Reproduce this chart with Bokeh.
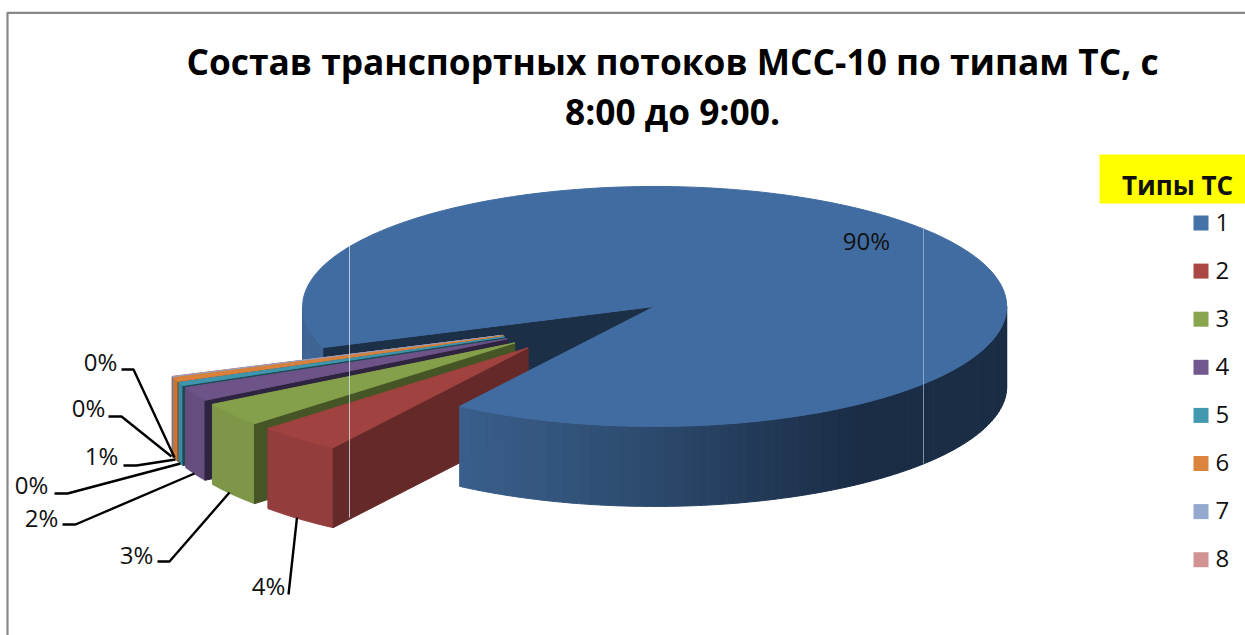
import math
from bokeh.plotting import figure
from bokeh.models import Range1d
from bokeh.core.properties import value
from bokeh.embed import file_html
from bokeh.resources import INLINE

# ---- data ----
TITLE_LINES = ["Состав транспортных потоков МСС-10 по типам ТС, с", "8:00 до 9:00."]
LEGEND_TITLE = "Типы ТС"
SERIES = ["1", "2", "3", "4", "5", "6", "7", "8"]
SHARES = [89.9, 3.9, 3.2, 1.9, 0.45, 0.55, 0.05, 0.05]

# ---- styles ----
LEGEND_COLORS = ["#4572A7", "#AA4643", "#89A54E", "#71588F", "#4198AF", "#DB843D", "#93A9CF", "#D19392"]
TOP_COLORS = ["#416CA1", "#A0423F", "#85A04A", "#6E5389", "#3F96AE", "#D9803A", "#8FA4C8", "#CB8E8D"]
WALL_COLORS = ["#3C6393", "#933D3C", "#7D9648", "#654D7E", "#3A8AA0", "#C87636", "#7F92B5", "#B88080"]
SIDE_COLORS = ["#1B2F47", "#662929", "#455526", "#2F2440", "#1E4A55", "#7A4A22", "#56637C", "#7A5454"]
# shading of the large slice's outer wall, by horizontal position
BLUE_WALL_STOPS = [(300, "#3E6595"), (458, "#3A5F8C"), (650, "#2C4A6D"), (800, "#1F3450"), (860, "#1A2D45"), (1010, "#1A2D45")]

# ---- layout (reference pixel frame) ----
W, H = 1245, 635
CX, CY = 585.0, 324.5      # pie centre before explosion
RX, RY = 352.0, 120.0      # ellipse radii
DEPTH = 80.0
EXPLODE = 0.25
START_DEG = 160.0          # where the first slice starts, clockwise on screen

LABEL_POS = [(866, 240), (268, 585), (136, 554), (41, 517), (31, 484), (101, 455), (88, 407), (100, 361)]
LEADERS = [None,
           [(288, 594), (296.5, 517)],
           [(157, 561), (169, 561), (229, 492)],
           [(62, 524), (75, 524), (194, 473)],
           [(54, 493), (67, 493), (180, 463)],
           [(123, 465), (136, 465), (175, 459)],
           [(108, 416), (121, 416), (171, 456)],
           [(121, 369), (133, 369), (174, 457)]]


def hex2rgb(c):
    return tuple(int(c[i:i + 2], 16) for i in (1, 3, 5))


def blue_wall(x):
    for (x1, c1), (x2, c2) in zip(BLUE_WALL_STOPS, BLUE_WALL_STOPS[1:]):
        if x1 <= x <= x2:
            t = (x - x1) / (x2 - x1)
            a, b = hex2rgb(c1), hex2rgb(c2)
            return "#%02x%02x%02x" % tuple(round(a[i] + (b[i] - a[i]) * t) for i in range(3))
    return BLUE_WALL_STOPS[-1][1]


def rim(ax, ay, deg):
    r = math.radians(deg)
    return ax + RX * math.cos(r), ay + RY * math.sin(r)


def arc(ax, ay, a1, a2, step=1.0):
    n = max(2, int(abs(a2 - a1) / step) + 1)
    return [rim(ax, ay, a1 + (a2 - a1) * i / (n - 1)) for i in range(n)]


total = sum(SHARES)
spans = []
a = START_DEG
for s in SHARES:
    b = a + s / total * 360.0
    spans.append((a, b))
    a = b

apexes = []
for a1, a2 in spans:
    m = math.radians((a1 + a2) / 2)
    apexes.append((CX + EXPLODE * RX * math.cos(m), CY + EXPLODE * RY * math.sin(m)))

polys = {"xs": [], "ys": [], "c": []}


def add(points, color):
    polys["xs"].append([q[0] for q in points])
    polys["ys"].append([q[1] for q in points])
    polys["c"].append(color)


def wall_quad(pts):
    return pts + [(x, y + DEPTH) for x, y in reversed(pts)]


def blue_wall_pieces(lo, hi):
    deg = lo
    while deg < hi:
        nxt = min(deg + 1.5, hi)
        seg = arc(apexes[0][0], apexes[0][1], deg, nxt, 0.5)
        add(wall_quad(seg), blue_wall((seg[0][0] + seg[-1][0]) / 2))
        deg = nxt


# behind the exploded slices: the left part of the large slice's wall and its cut wall
a1, a2 = spans[0]
blue_wall_pieces(a1, 180.0)
add(wall_quad([apexes[0], rim(apexes[0][0], apexes[0][1], a1)]), SIDE_COLORS[0])

# the exploded slices, far to near
for i in range(len(SHARES) - 1, 0, -1):
    ax, ay = apexes[i]
    b1, b2 = spans[i]
    add(wall_quad(arc(ax, ay, b1, b2, 0.5)), WALL_COLORS[i])
    add(wall_quad([(ax, ay), rim(ax, ay, b1)]), SIDE_COLORS[i])
    add([(ax, ay)] + arc(ax, ay, b1, b2, 0.5), TOP_COLORS[i])

# in front of them: the front wall of the large slice and its top
blue_wall_pieces(360.0, a2)
add([apexes[0]] + arc(apexes[0][0], apexes[0][1], a1, a2), TOP_COLORS[0])

p = figure(width=W, height=H, output_backend="svg", toolbar_location=None,
           x_range=Range1d(0, W), y_range=Range1d(H, 0),
           min_border=0, outline_line_color=None, background_fill_color="white",
           border_fill_color="white")
p.axis.visible = False
p.grid.visible = False

p.patches(polys["xs"], polys["ys"], fill_color=polys["c"], line_color=polys["c"], line_width=1.0)

# thin pale scan lines across the pie
p.segment([349], [245], [349], [517], line_color="#d5dfea", line_width=1, line_alpha=0.8)
p.segment([923], [228], [923], [463], line_color="#a9bcd3", line_width=1, line_alpha=0.7)

# chart frame
p.line([7, 7, W], [H, 12.3, 12.3], line_color="#888888", line_width=2.2)

# title
p.text([672, 672], [60, 110.5], text=TITLE_LINES, text_font=value("Open Sans"), text_font_style="bold",
       text_font_size="35.3px", text_align="center", text_baseline="middle", text_color="#000000")

# leaders and data labels
for leader in LEADERS:
    if leader:
        p.line([q[0] for q in leader], [q[1] for q in leader], line_color="#000000", line_width=2.4)
labels = [f"{round(s)}%" for s in SHARES]
p.text([q[0] for q in LABEL_POS], [q[1] for q in LABEL_POS], text=labels, text_font=value("Open Sans"),
       text_font_size="24px", text_align="center", text_baseline="middle", text_color="#111111")

# legend
p.quad(left=[1099], right=[1245], top=[154], bottom=[203], fill_color="#FFFF00", line_color=None)
p.text([1177], [184], text=[LEGEND_TITLE], text_font=value("Open Sans"), text_font_size="26px",
       text_font_style="bold", text_align="center", text_baseline="middle", text_color="#111111")
ly = [222.5 + 48.1 * i for i in range(len(SERIES))]
p.quad(left=[1193] * len(SERIES), right=[1208] * len(SERIES),
       top=[y - 7.5 for y in ly], bottom=[y + 7.5 for y in ly],
       fill_color=LEGEND_COLORS, line_color=None)
p.text([1215] * len(SERIES), [y - 1 for y in ly], text=SERIES, text_font=value("Open Sans"), text_font_size="24px",
       text_align="left", text_baseline="middle", text_color="#111111")

open("out.html", "w").write(file_html(p, INLINE))
